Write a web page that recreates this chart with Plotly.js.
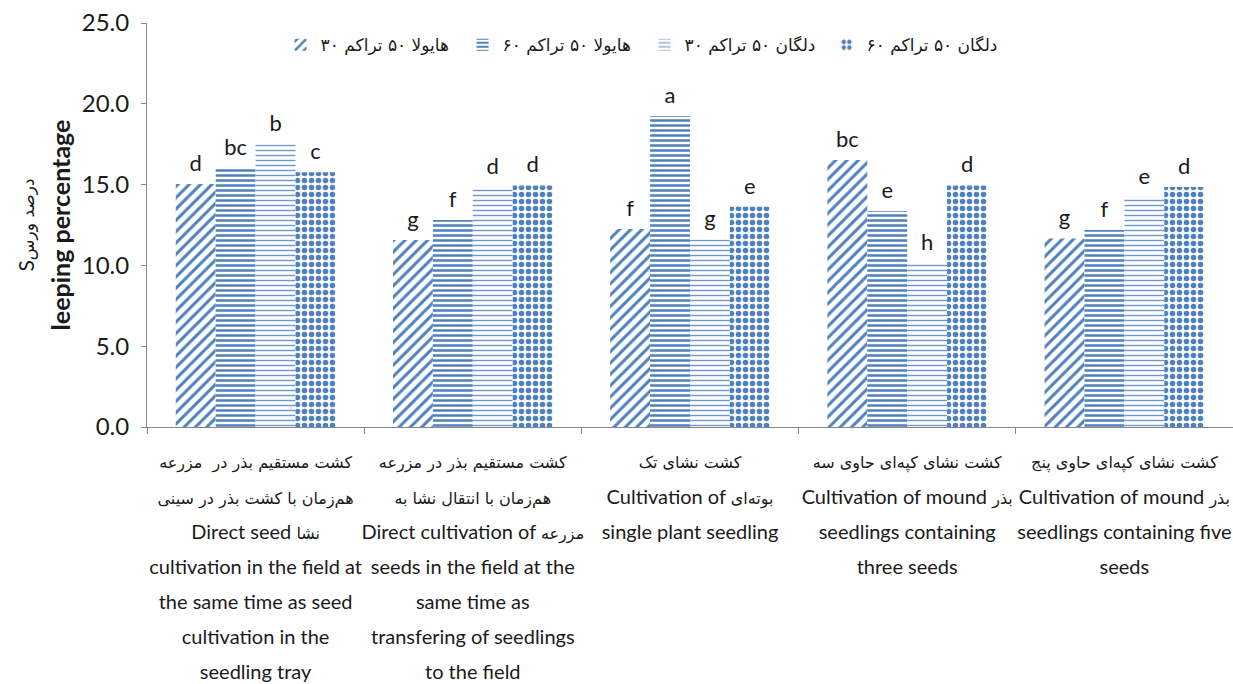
<!DOCTYPE html>
<html><head><meta charset="utf-8">
<script src="https://cdn.plot.ly/plotly-3.0.1.min.js"></script>
<style>html,body{margin:0;padding:0;background:#fff}#chart{width:1233px;height:684px}</style>
</head><body><div id="chart"></div>
<script>
// ---- data ----
const categories = ['C1', 'C2', 'C3', 'C4', 'C5'];
const tickLabelLines = [
  ['کشت مستقیم بذر در  مزرعه', 'هم‌زمان با کشت بذر در سینی', 'Direct seed نشا', 'cultivation in the field at', 'the same time as seed', 'cultivation in the', 'seedling tray'],
  ['کشت مستقیم بذر در مزرعه', 'هم‌زمان با انتقال نشا به', 'Direct cultivation of مزرعه', 'seeds in the field at the', 'same time as', 'transfering of seedlings', 'to the field'],
  ['کشت نشای تک', 'Cultivation of بوته‌ای', 'single plant seedling'],
  ['کشت نشای کپه‌ای حاوی سه', 'Cultivation of mound بذر', 'seedlings containing', 'three seeds'],
  ['کشت نشای کپه‌ای حاوی پنج', 'Cultivation of mound بذر', 'seedlings containing five', 'seeds']
];
const seriesNames = ['هایولا ۵۰ تراکم ۳۰', 'هایولا ۵۰ تراکم ۶۰', 'دلگان ۵۰ تراکم ۳۰', 'دلگان ۵۰ تراکم ۶۰'];
const hyola30 = [15.04, 11.57, 12.25, 16.52, 11.67];
const hyola60 = [16.0, 12.81, 19.25, 13.37, 12.19];
const dalgan30 = [17.5, 14.87, 11.61, 10.15, 14.25];
const dalgan60 = [15.76, 14.95, 13.63, 14.95, 14.85];
const hyola30Letters = ['d', 'g', 'f', 'bc', 'g'];
const hyola60Letters = ['bc', 'f', 'a', 'e', 'f'];
const dalgan30Letters = ['b', 'd', 'g', 'h', 'e'];
const dalgan60Letters = ['c', 'd', 'e', 'd', 'd'];
const yTickVals = [0, 5, 10, 15, 20, 25];

// ---- styling helpers ----
const LATIN = "Lato, 'Open Sans', sans-serif";
const ARABIC = "'DejaVu Sans', sans-serif";
const arabicRe = /[\u0600-\u06FF\u200C]+(?:[\s\u200C]+[\u0600-\u06FF\u200C]+)*/g;
function styleLine(line) {
  let out = '', last = 0, m;
  arabicRe.lastIndex = 0;
  while ((m = arabicRe.exec(line)) !== null) {
    if (m.index > last) out += `<span style="font-family:${LATIN};font-size:20px">${line.slice(last, m.index)}</span>`;
    out += `<span style="font-family:${ARABIC};font-size:16px">${m[0]}</span>`;
    last = m.index + m[0].length;
  }
  if (last < line.length) out += `<span style="font-family:${LATIN};font-size:20px">${line.slice(last)}</span>`;
  return out;
}
const tickText = tickLabelLines.map(lines => lines.map(styleLine).join('<br>'));

const blue = '#4F81BD';
function barTrace(name, y, letters, pattern) {
  return {
    type: 'bar', name: name, x: categories, y: y,
    text: letters, textposition: 'outside', cliponaxis: false,
    texttemplate: '<span style="font-size:22px">%{text}</span><br>&nbsp;',
    textfont: {family: LATIN, size: 7, color: '#1a1a1a'},
    constraintext: 'none',
    marker: {color: '#ffffff', line: {width: 0}, pattern: pattern},
    hoverinfo: 'x+y'
  };
}
const data = [
  barTrace(seriesNames[0], hyola30, hyola30Letters, {shape: '/', fgcolor: blue, bgcolor: '#ffffff', fgopacity: 1, size: 8, solidity: 0.38, fillmode: 'overlay'}),
  barTrace(seriesNames[1], hyola60, hyola60Letters, {shape: '-', fgcolor: blue, bgcolor: '#ffffff', fgopacity: 1, size: 5, solidity: 0.5, fillmode: 'overlay'}),
  barTrace(seriesNames[2], dalgan30, dalgan30Letters, {shape: '-', fgcolor: '#6F98CE', bgcolor: '#ffffff', fgopacity: 1, size: 5, solidity: 0.28, fillmode: 'overlay'}),
  barTrace(seriesNames[3], dalgan60, dalgan60Letters, {shape: '.', fgcolor: blue, bgcolor: '#ffffff', fgopacity: 1, size: 7, solidity: 0.5, fillmode: 'overlay'})
];

const layout = {
  width: 1233, height: 684,
  margin: {l: 147, r: 0, t: 23, b: 257},
  paper_bgcolor: '#ffffff', plot_bgcolor: '#ffffff',
  barmode: 'group', bargap: 0.265, bargroupgap: 0,
  showlegend: true,
  legend: {orientation: 'h', x: 0.123, xanchor: 'left', y: 0.945, yanchor: 'middle',
           font: {family: ARABIC, size: 17, color: '#1a1a1a'}, entrywidth: 137, traceorder: 'normal'},
  xaxis: {
    type: 'category', tickvals: categories, ticktext: tickText,
    showline: true, linecolor: '#868686', linewidth: 1,
    ticks: 'outside', tickson: 'boundaries', ticklen: 6, tickcolor: '#868686',
    ticklabelstandoff: 8,
    tickfont: {family: LATIN, size: 27, color: '#1a1a1a'},
    showgrid: false, zeroline: false, automargin: false, tickangle: 0
  },
  yaxis: {
    range: [0, 25], tickvals: yTickVals, tickformat: '.1f',
    showline: true, linecolor: '#868686', linewidth: 1,
    ticks: 'outside', ticklen: 5, tickcolor: '#868686',
    ticklabelstandoff: 7,
    tickfont: {family: LATIN, size: 24, color: '#1a1a1a'},
    showgrid: false, zeroline: false, automargin: false,
    title: {
      text: `<span style="font-family:${LATIN};font-size:21px">S</span><span style="font-family:${ARABIC};font-size:17px">درصد ورس</span><br><b><span style="font-family:${LATIN};font-size:25px">leeping percentage</span></b>`,
      font: {family: LATIN, size: 28, color: '#1a1a1a'}, standoff: 2
    }
  }
};
Plotly.newPlot('chart', data, layout, {displayModeBar: false, responsive: false});
</script>
</body></html>
